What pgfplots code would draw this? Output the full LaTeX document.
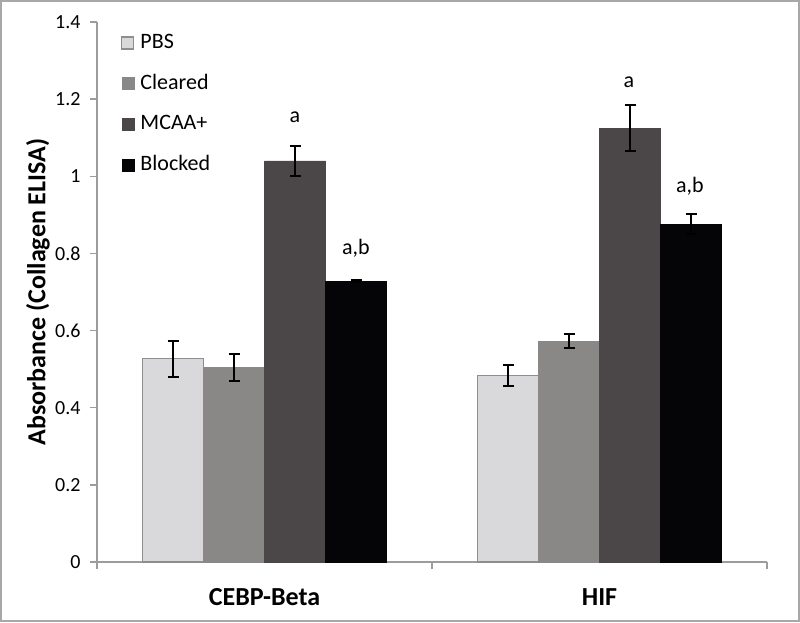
\documentclass[border=0pt]{standalone}
\usepackage{pgfplots}
\pgfplotsset{compat=1.18}
\usepackage{fontspec}
\setmainfont{Carlito}
\definecolor{cPBS}{HTML}{D9D8DA}
\definecolor{cCleared}{HTML}{8A8787}
\definecolor{cMCAA}{HTML}{4B4748}
\definecolor{cBlocked}{HTML}{050507}
\definecolor{cEdge}{HTML}{8E8E8E}
\definecolor{cAxis}{HTML}{9C9C9C}
\definecolor{cFrame}{HTML}{A8A8A8}
\begin{document}
\begin{tikzpicture}[x=1pt,y=1pt]
\useasboundingbox (0,0) rectangle (800,622);
\draw[color=cFrame, line width=2pt] (1,1) rectangle (799,621);
\begin{axis}[
  at={(97pt,60pt)}, anchor=south west,
  scale only axis, width=670pt, height=540pt,
  xmin=0, xmax=2, ymin=0, ymax=1.4,
  axis lines=left, axis line style={-, color=cAxis, line width=1.5pt},
  tick align=outside, major tick length=7pt,
  tick style={color=cAxis, line width=1.5pt},
  xtick={0,1,2}, xticklabels={},
  extra x ticks={0.5,1.5},
  extra x tick labels={CEBP-Beta,HIF},
  extra x tick style={major tick length=0pt,
    xticklabel style={anchor=base, yshift=-43pt, font=\fontsize{26}{30}\selectfont\bfseries}},
  ytick={0,0.2,0.4,0.6,0.8,1,1.2,1.4},
  yticklabels={0,0.2,0.4,0.6,0.8,1,1.2,1.4},
  yticklabel style={font=\fontsize{20}{24}\selectfont, xshift=-6pt},
  ylabel={Absorbance (Collagen ELISA)},
  ylabel style={at={(axis description cs:-0.088,0.5)}, anchor=center, rotate=0,
    font=\fontsize{26}{30}\selectfont\bfseries},
  ybar=0pt, bar width=61pt,
  legend style={at={(axis description cs:0.031,0.985)}, anchor=north west,
    draw=none, fill=none, font=\fontsize{22}{26}\selectfont,
    nodes={text height=16pt, text depth=5pt, inner sep=0pt},
    row sep=19.7pt, /tikz/every odd column/.append style={column sep=6pt}},
  legend cell align=left,
  legend image code/.code={\draw[#1] (0pt,-6pt) rectangle (12pt,6pt);},
  error bars/y dir=both, error bars/y explicit,
  error bars/error bar style={line width=2pt, black},
  error bars/error mark options={rotate=90, mark size=5.5pt, line width=2pt, black},
]
\addplot[fill=cPBS, draw=cEdge, line width=1.5pt] coordinates {(0.5,0.527) +- (0,0.047) (1.5,0.484) +- (0,0.028)};
\addplot[fill=cCleared, draw=cCleared] coordinates {(0.5,0.505) +- (0,0.035) (1.5,0.572) +- (0,0.018)};
\addplot[fill=cMCAA, draw=cMCAA] coordinates {(0.5,1.040) +- (0,0.038) (1.5,1.125) +- (0,0.059)};
\addplot[fill=cBlocked, draw=cBlocked] coordinates {(0.5,0.728) +- (0,0.003) (1.5,0.876) +- (0,0.026)};
\legend{PBS,Cleared,MCAA+,Blocked}
\node[font=\fontsize{22}{26}\selectfont, anchor=base] at (axis cs:0.591,1.140) {a};
\node[font=\fontsize{22}{26}\selectfont, anchor=base] at (axis cs:1.588,1.231) {a};
\node[font=\fontsize{22}{26}\selectfont, anchor=base] at (axis cs:0.773,0.798) {a,b};
\node[font=\fontsize{22}{26}\selectfont, anchor=base] at (axis cs:1.770,0.959) {a,b};
\end{axis}
\end{tikzpicture}
\end{document}
